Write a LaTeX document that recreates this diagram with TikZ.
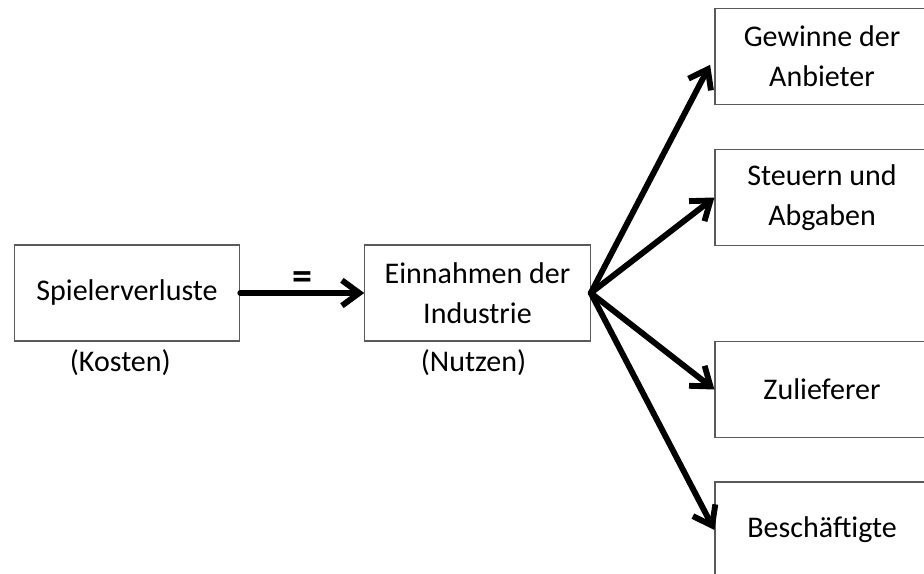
\documentclass[tikz,border=0pt]{standalone}
\usepackage{fontspec}
\setmainfont{Carlito}
\usetikzlibrary{arrows.meta,positioning}
\definecolor{rim}{HTML}{5A5A5A}

\begin{document}
\begin{tikzpicture}[
  x=0.75pt,y=-0.75pt,
  box/.style={draw=rim,line width=0.9pt,minimum height=72pt,inner sep=0pt,align=center,font=\fontsize{22.5}{30}\selectfont},
  midbox/.style={box,minimum width=169pt},
  endbox/.style={box,minimum width=160.5pt},
  note/.style={inner sep=1pt,font=\fontsize{22.5}{26}\selectfont},
  arrow/.style={-{Straight Barb[length=13pt,width=19pt]},line width=4.4pt,line cap=round}
]
\clip (0,0) rectangle (924,574);
\node[midbox] (verluste) at (127,293) {Spielerverluste};
\node[midbox] (einnahmen) at (477.5,293) {Einnahmen der\\Industrie};
\node[note,below=5pt of verluste,xshift=-5pt] (kosten) {(Kosten)};
\node[note,below=5pt of einnahmen,xshift=-3pt] (nutzen) {(Nutzen)};
\node[endbox] (gewinne) at (822,56.5) {Gewinne der\\Anbieter};
\node[endbox] (steuern) at (822,197.5) {Steuern und\\Abgaben};
\node[endbox] (zulieferer) at (822,389.5) {Zulieferer};
\node[endbox] (beschaeftigte) at (822,530) {Beschäftigte};
\draw[arrow] (verluste) -- node[above=-3pt,font=\fontsize{30}{30}\selectfont\bfseries] {=} (einnahmen);
\draw[arrow,shorten >=7pt] (einnahmen.east) -- (gewinne.west);
\draw[arrow] (einnahmen.east) -- (steuern.west);
\draw[arrow] (einnahmen.east) -- (zulieferer.west);
\draw[arrow] (einnahmen.east) -- (beschaeftigte.west);
\end{tikzpicture}
\end{document}
